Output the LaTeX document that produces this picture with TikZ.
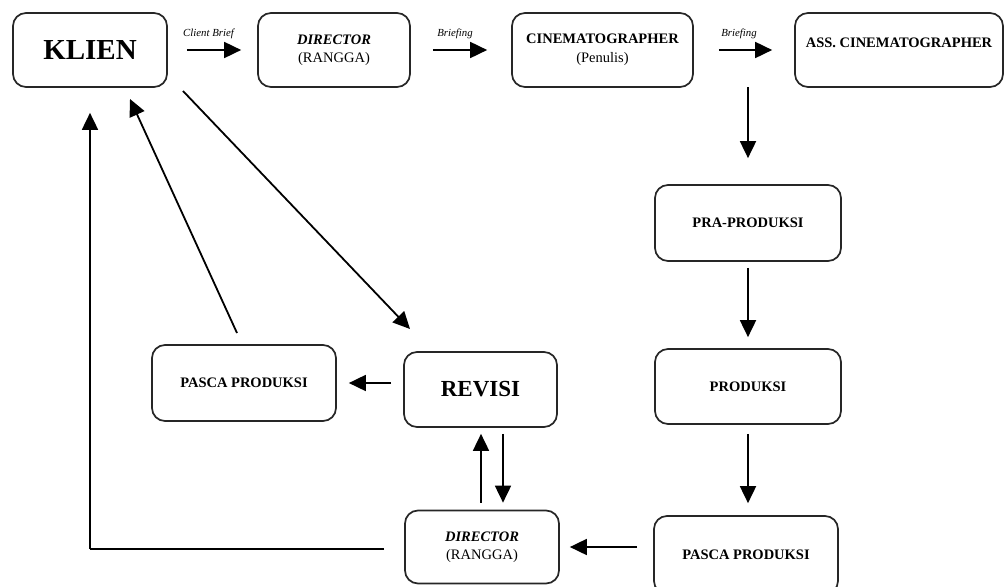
\documentclass[tikz,border=0pt]{standalone}
\usepackage{fontspec}
\setmainfont{Liberation Serif}
\usetikzlibrary{arrows.meta}
\begin{document}
\begin{tikzpicture}[x=1pt,y=-1pt,
  box/.style={draw=black!85,line width=1.7pt,rounded corners=13pt,align=center,inner sep=0pt,
    font=\fontsize{14.5}{17}\selectfont\bfseries},
  conn/.style={line width=1.8pt,-{Triangle[length=17pt,width=16pt]}},
  plain/.style={line width=1.8pt},
  lbl/.style={font=\fontsize{10.8}{12}\selectfont\itshape}]
\useasboundingbox (0,0) rectangle (1008,586);
\clip (0,0) rectangle (1008,586);
\node[box,minimum width=154pt,minimum height=74pt] (klien) at (90,50) {\fontsize{29}{32}\selectfont KLIEN};
\node[box,minimum width=152pt,minimum height=74pt] (dir1) at (334,50) {\textit{DIRECTOR}\\[1pt]\mdseries (RANGGA)};
\node[box,minimum width=181pt,minimum height=74pt] (cine) at (602.5,50) {CINEMATOGRAPHER\\[2pt]\mdseries (Penulis)};
\node[box,minimum width=208pt,minimum height=74pt] (ass) at (899,50) {\raisebox{14pt}{ASS. CINEMATOGRAPHER}};
\node[box,minimum width=186pt,minimum height=76pt] (pra) at (748,223) {PRA-PRODUKSI};
\node[box,minimum width=186pt,minimum height=75pt] (prod) at (748,386.5) {PRODUKSI};
\node[box,minimum width=184pt,minimum height=78pt] (pascaR) at (746,555) {PASCA PRODUKSI};
\node[box,minimum width=154pt,minimum height=73pt] (dir2) at (482,547) {\textit{DIRECTOR}\\[1pt]\mdseries (RANGGA)};
\node[box,minimum width=153pt,minimum height=75pt] (revisi) at (480.5,389.5) {\fontsize{23}{26}\selectfont REVISI};
\node[box,minimum width=184pt,minimum height=76pt] (pascaL) at (244,383) {PASCA PRODUKSI};

\draw[conn,shorten <=19pt,shorten >=16pt] (klien.east) -- (dir1.west) node[lbl,midway,above=7pt,xshift=-4pt] {Client Brief};
\draw[conn,shorten <=22pt,shorten >=24pt] (dir1.east) -- (cine.west) node[lbl,midway,above=7pt,xshift=-6pt] {Briefing};
\draw[conn,shorten <=25pt,shorten >=22pt] (cine.east) -- (ass.west) node[lbl,midway,above=7pt,xshift=-5pt] {Briefing};
\coordinate (vstart) at (748,87);
\draw[conn,shorten >=26pt] (vstart) -- (pra.north);
\draw[conn,shorten <=6pt,shorten >=11pt] (pra.south) -- (prod.north);
\draw[conn,shorten <=9pt,shorten >=12pt] (prod.south) -- (prod.south |- pascaR.north);
\draw[conn,shorten <=16pt,shorten >=10pt] (pascaR.west |- dir2) -- (dir2.east);
\draw[conn,shorten <=12pt,shorten >=12pt] (revisi.west |- pascaL) -- (pascaL.east);
\draw[conn,shorten <=7pt,shorten >=6pt] ([xshift=-1pt]dir2.north) -- ([xshift=-1pt]dir2.north |- revisi.south);
\draw[conn,shorten <=6pt,shorten >=7pt] ([xshift=22.5pt]revisi.south) -- ([xshift=22.5pt]revisi.south |- dir2.north);
\coordinate (corner) at (90,549);
\draw[plain,shorten <=20pt] (dir2.west |- corner) -- (corner);
\draw[conn,shorten >=25pt] (corner) -- (klien.south);
\coordinate (pls) at (237,333);
\coordinate (kl2) at (130,99);
\draw[conn] (pls) -- (kl2);
\coordinate (ks) at (183,91);
\coordinate (rv) at (410,329);
\draw[conn] (ks) -- (rv);
\end{tikzpicture}
\end{document}
